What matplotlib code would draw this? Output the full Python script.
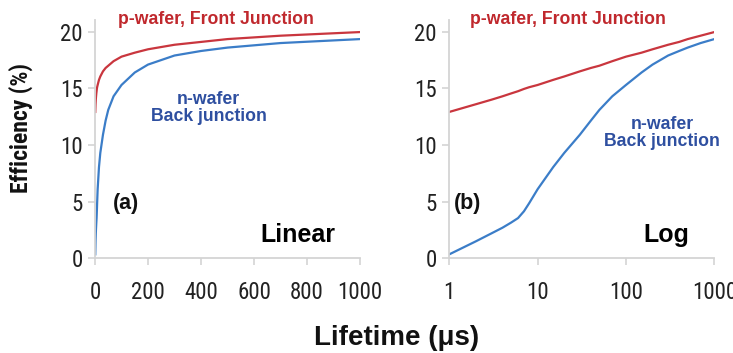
import matplotlib
matplotlib.use("Agg")
import matplotlib.pyplot as plt

# ---- data ----
lifetime = [1, 2, 3, 4, 5, 6, 7, 8, 10, 15, 20, 30, 40, 50, 70, 100, 150, 200, 300, 400, 500, 700, 1000]
eff_p_front = [12.92, 13.6, 14.0, 14.3, 14.55, 14.75, 14.95, 15.1, 15.3, 15.75, 16.05, 16.5,
               16.8, 17.0, 17.4, 17.8, 18.15, 18.45, 18.85, 19.1, 19.35, 19.65, 19.97]
eff_n_back = [0.35, 1.5, 2.2, 2.7, 3.15, 3.55, 4.15, 4.85, 6.1, 8.05, 9.3, 10.9,
              12.15, 13.1, 14.3, 15.3, 16.4, 17.1, 17.9, 18.3, 18.6, 19.0, 19.35]
yticks = [0, 5, 10, 15, 20]
xticks_lin = [0, 200, 400, 600, 800, 1000]
xticks_log = [1, 10, 100, 1000]
xtick_labels_log = ["1", "10", "100", "1000"]

RED = "#c9363e"
BLUE = "#3b7dc8"
RED_TXT = "#c0282d"
BLUE_TXT = "#2e4fa0"
GRID = "#d4d4d4"

W, H = 733, 353
fig = plt.figure(figsize=(W / 100, H / 100), dpi=100)

narrow = ["Roboto Condensed", "DejaVu Sans"]
boldfam = ["Liberation Sans", "DejaVu Sans"]


def px_axes(x0, x1, ytop, ybot):
    return fig.add_axes([x0 / W, 1 - ybot / H, (x1 - x0) / W, (ybot - ytop) / H])


def style(ax):
    for s in ["top", "right"]:
        ax.spines[s].set_visible(False)
    for s in ["left", "bottom"]:
        ax.spines[s].set_color(GRID)
        ax.spines[s].set_linewidth(1.3)
    ax.tick_params(axis="both", which="major", length=5, width=1.2, color=GRID,
                   direction="out", labelsize=16.5)
    ax.tick_params(axis="x", which="major", pad=11)
    ax.tick_params(axis="y", which="major", pad=4)
    ax.tick_params(axis="x", which="minor", length=0)
    for lab in ax.get_xticklabels() + ax.get_yticklabels():
        lab.set_family(narrow)
        lab.set_color("#222222")
    ax.set_ylim(0, 21)
    ax.set_yticks(yticks)
    ax.patch.set_alpha(0)


# (a) linear
ax1 = px_axes(95, 360, 20.4, 258.3)
ax1.plot(lifetime, eff_p_front, color=RED, lw=1.6)
ax1.plot(lifetime, eff_n_back, color=BLUE, lw=1.6)
ax1.set_xlim(0, 1000)
ax1.set_xticks(xticks_lin)
style(ax1)

# (b) log
ax2 = px_axes(449.3, 714.3, 20.4, 258.3)
ax2.plot(lifetime, eff_p_front, color=RED, lw=1.6)
ax2.plot(lifetime, eff_n_back, color=BLUE, lw=1.6)
ax2.set_xscale("log")
ax2.set_xlim(1, 1000)
ax2.set_xticks(xticks_log)
ax2.set_xticklabels(xtick_labels_log)
style(ax2)


def ftext(px, py, s, **kw):
    fig.text(px / W, 1 - py / H, s, ha="center", va="center", **kw)


# annotations
for cx in (216, 567.5):
    ftext(cx, 20, "p-wafer, Front Junction", color=RED_TXT, fontsize=12.7,
          fontweight="bold", family=boldfam)
ftext(208.5, 108, "n-wafer\nBack junction", color=BLUE_TXT, fontsize=12.7,
      fontweight="bold", family=boldfam, linespacing=1.05)
ftext(662, 133, "n-wafer\nBack junction", color=BLUE_TXT, fontsize=12.7,
      fontweight="bold", family=boldfam, linespacing=1.05)
ftext(126, 203, "(a)", color="#111111", fontsize=15.5, fontweight="bold", family=boldfam)
ftext(467.5, 203, "(b)", color="#111111", fontsize=15.5, fontweight="bold", family=boldfam)
ftext(297.5, 235, "Linear", color="#000000", fontsize=18, fontweight="bold", family=boldfam)
ftext(666.5, 235, "Log", color="#000000", fontsize=18, fontweight="bold", family=boldfam)

# axis titles
ftext(21, 128, "Efficiency (%)", color="#111111", fontsize=17, fontweight="bold",
      family=narrow, rotation=90)
ftext(397, 338, "Lifetime (\u03bcs)", color="#111111", fontsize=20, fontweight="bold",
      family=boldfam)

fig.savefig("out.png", dpi=100)
